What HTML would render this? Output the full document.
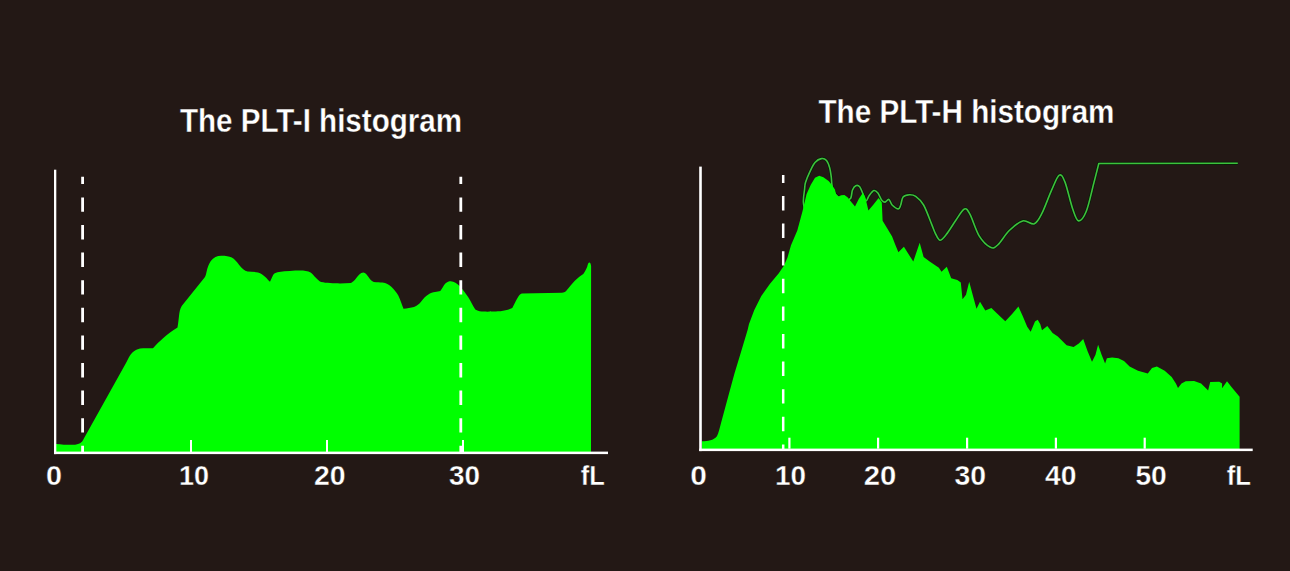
<!DOCTYPE html>
<html><head><meta charset="utf-8">
<style>
html,body{margin:0;padding:0;background:#231815;}
body{width:1290px;height:571px;overflow:hidden;position:relative;}
svg{position:absolute;left:0;top:0;}
text{font-family:"Liberation Sans",sans-serif;font-weight:bold;fill:#fff;stroke:#231815;stroke-width:0.35px;}
</style></head><body>
<svg width="1290" height="571" viewBox="0 0 1290 571">
<rect width="1290" height="571" fill="#231815"/>
<!-- LEFT CHART -->
<path id="lfill" fill="#00ff00" d="M56,452 L56,443.9 C62,444.6 70,444.9 75.2,444.7 C78,444.5 80,443.6 81,442.6 C82.5,441.5 83,440 83.6,438.9 L126,363 C128,359 129.5,356.2 130.9,354.3 C133,351.5 135,350 137,349.4 C139,348.6 141,348.3 143.2,348.2 L153,348.2 C156,345 159,341.5 162.8,338.4 C168,334 172,331 177.5,327.6 C178.5,322 178.8,317 179.3,313.5 C180,309 181,307 181.9,305.7 L204.6,277.6 C205.5,276 206,274.5 206.4,272.4 C207.5,267 209,264 210.8,261 C213.5,257.5 217,255.8 221.3,255.8 C226,255.8 229,256.3 231.8,257.5 C234.5,259 236.5,261.5 238.8,264.5 C242,268.5 244.5,271 247.6,271.5 C251,272 255,271.8 258,272.4 C261,273.2 263,275 265,276.8 C267,278.6 268.5,280.5 270,281.7 C271.5,279 272.5,276 273.8,274.1 C275,272.8 277,272.2 279,272 C286,271.2 294,270.6 300,270.6 C304,270.6 308,271 310.6,272.4 C314,275 317,280 321.1,282 C326,283 334,283.3 340,283.4 L351,282.9 C353,282 354.5,280.5 356.3,278 C358.5,275 360.5,272.4 363.3,272.4 C365.5,272.4 367,275 368.5,277.1 C370,279.5 372,281.5 373.8,281.9 C377,282.2 380,282.2 382.5,282.4 C386,283 389,284.5 391.3,286.8 C394.5,290 396.5,292.5 398.3,295.5 C400.5,300 402,305 403.5,308.7 C407,308.4 411,307.8 414,306.9 C417,305.8 419,304 421,301.7 C423.5,298.5 425.5,296 428,294.7 C430.5,293 433,292.4 435,292 C437,291.6 439,291.6 440.3,291.1 C442,289 443.5,285.5 445.6,283.3 C447,281.8 449,281.2 450.8,281.2 C454,281.5 457,283.5 459.6,285.9 C462.5,289 465.5,293 468.3,297.3 C471,301.5 473,306.5 475.3,309.5 C478,311.2 481,311.6 484.1,311.6 C490,311.8 500,311.3 500.5,311.3 C505,310.5 510,309.5 512.3,308.1 C514.5,304 516,300 517.8,297.5 C519,295.5 520.5,294 521.8,293.6 L562,292.8 C563.5,292.5 565,291.8 565.9,291.2 C569,287.5 572,284 574.6,281 C578,277.5 581,275.5 583.3,273.9 C585,272 586,269.5 587.2,266.8 C587.8,263.8 588.5,262.4 589.4,262.4 C590.3,262.4 590.9,264 591.1,266 L591,452 Z"/>
<!-- axes -->
<rect x="54" y="169.7" width="2.3" height="284.4" fill="#fff"/>
<rect x="54" y="451.6" width="554" height="2.5" fill="#fff"/>
<!-- ticks -->
<rect x="190" y="440" width="2" height="12" fill="#fff"/>
<rect x="326" y="440" width="2" height="12" fill="#fff"/>
<rect x="462" y="440" width="2" height="12" fill="#fff"/>
<!-- dashed -->
<line x1="82.6" y1="176.8" x2="82.6" y2="452" stroke="#fff" stroke-width="2.8" stroke-dasharray="7.2 13.4 14.4 13.2 14.4 13.2 14.4 13.2 14.4 13.2 14.4 13.2 14.4 13.2 14.4 13.2 14.4 13.2 14.4 13.2 14.4 13.2 14.4 13.2"/>
<line x1="460.8" y1="176.8" x2="460.8" y2="452" stroke="#fff" stroke-width="2.8" stroke-dasharray="7.2 13.4 14.4 13.2 14.4 13.2 14.4 13.2 14.4 13.2 14.4 13.2 14.4 13.2 14.4 13.2 14.4 13.2 14.4 13.2 14.4 13.2 14.4 13.2"/>
<!-- labels -->
<text x="180" y="131.7" font-size="33.6" textLength="282" lengthAdjust="spacingAndGlyphs">The PLT-I histogram</text>
<!-- RIGHT CHART -->
<path fill="none" stroke="#0a1c08" stroke-width="3.2" stroke-linejoin="round" d="M806,215 C805.6,212.9 803.6,206.7 803.4,202.5 C803.1,198.3 804.1,193.3 804.5,190.0 C804.9,186.7 804.6,185.6 805.5,182.6 C806.4,179.6 808.1,175.4 809.7,172.1 C811.3,168.8 813.1,164.8 815.0,162.6 C816.9,160.3 819.4,158.9 821.3,158.6 C823.2,158.2 825.1,158.9 826.5,160.5 C827.9,162.1 828.9,165.1 829.7,167.9 C830.5,170.7 830.9,174.7 831.3,177.3 C831.6,179.9 831.5,181.5 831.8,183.6 C832.1,185.7 832.0,187.8 833.0,190.0 C834.0,192.2 835.8,195.3 838.0,197.0 C840.2,198.7 843.9,199.8 846.0,200.0 C848.1,200.2 849.6,200.0 850.7,198.3 C851.8,196.6 851.6,192.1 852.5,190.0 C853.4,187.9 854.6,186.2 855.8,185.7 C857.0,185.2 858.5,185.4 859.7,186.8 C860.9,188.2 861.9,191.5 862.9,193.9 C863.9,196.3 865.0,200.7 866.0,201.0 C867.0,201.3 867.9,197.2 869.2,195.5 C870.5,193.8 872.5,190.9 873.9,190.5 C875.3,190.1 876.6,191.5 877.9,193.1 C879.2,194.7 880.6,198.7 881.8,200.2 C883.0,201.7 883.8,202.2 885.0,202.1 C886.2,202.0 887.7,198.9 888.9,199.4 C890.1,199.9 890.5,203.4 892.1,205.0 C893.7,206.6 897.0,208.9 898.4,208.9 C899.8,208.9 899.9,207.0 900.7,205.0 C901.5,203.0 901.7,198.8 903.1,197.1 C904.5,195.4 907.3,194.8 909.4,194.7 C911.5,194.6 913.3,194.6 915.7,196.3 C918.1,198.0 921.0,200.4 923.6,205.0 C926.2,209.6 929.6,219.2 931.5,223.9 C933.4,228.6 933.8,230.4 935.2,233.1 C936.6,235.8 938.1,239.9 939.9,240.2 C941.7,240.4 943.6,237.9 946.2,234.6 C948.8,231.3 952.7,224.8 955.7,220.5 C958.7,216.2 962.0,210.2 964.4,209.1 C966.8,208.0 967.4,209.7 969.9,214.2 C972.4,218.7 975.9,230.7 979.3,236.2 C982.7,241.7 987.3,245.8 990.4,247.3 C993.5,248.8 994.6,247.8 997.7,245.0 C1000.9,242.2 1005.1,234.5 1009.3,230.5 C1013.5,226.5 1018.5,222.0 1022.7,220.9 C1026.9,219.8 1031.1,225.1 1034.3,223.8 C1037.5,222.5 1039.1,218.8 1042.0,213.2 C1044.9,207.6 1048.7,196.4 1051.6,190.1 C1054.5,183.8 1057.0,176.4 1059.3,175.1 C1061.5,173.8 1062.8,176.7 1065.1,182.4 C1067.3,188.1 1070.5,202.9 1072.8,209.3 C1075.0,215.7 1076.3,220.6 1078.6,220.9 C1080.8,221.2 1083.7,217.7 1086.3,211.3 C1088.9,204.9 1091.9,190.4 1094.0,182.4 C1096.1,174.4 1098.0,166.7 1098.8,163.5 L1237.8,163.3"/>
<path fill="none" stroke="#3cc23c" stroke-width="1.6" stroke-linejoin="round" d="M806,215 C805.6,212.9 803.6,206.7 803.4,202.5 C803.1,198.3 804.1,193.3 804.5,190.0 C804.9,186.7 804.6,185.6 805.5,182.6 C806.4,179.6 808.1,175.4 809.7,172.1 C811.3,168.8 813.1,164.8 815.0,162.6 C816.9,160.3 819.4,158.9 821.3,158.6 C823.2,158.2 825.1,158.9 826.5,160.5 C827.9,162.1 828.9,165.1 829.7,167.9 C830.5,170.7 830.9,174.7 831.3,177.3 C831.6,179.9 831.5,181.5 831.8,183.6 C832.1,185.7 832.0,187.8 833.0,190.0 C834.0,192.2 835.8,195.3 838.0,197.0 C840.2,198.7 843.9,199.8 846.0,200.0 C848.1,200.2 849.6,200.0 850.7,198.3 C851.8,196.6 851.6,192.1 852.5,190.0 C853.4,187.9 854.6,186.2 855.8,185.7 C857.0,185.2 858.5,185.4 859.7,186.8 C860.9,188.2 861.9,191.5 862.9,193.9 C863.9,196.3 865.0,200.7 866.0,201.0 C867.0,201.3 867.9,197.2 869.2,195.5 C870.5,193.8 872.5,190.9 873.9,190.5 C875.3,190.1 876.6,191.5 877.9,193.1 C879.2,194.7 880.6,198.7 881.8,200.2 C883.0,201.7 883.8,202.2 885.0,202.1 C886.2,202.0 887.7,198.9 888.9,199.4 C890.1,199.9 890.5,203.4 892.1,205.0 C893.7,206.6 897.0,208.9 898.4,208.9 C899.8,208.9 899.9,207.0 900.7,205.0 C901.5,203.0 901.7,198.8 903.1,197.1 C904.5,195.4 907.3,194.8 909.4,194.7 C911.5,194.6 913.3,194.6 915.7,196.3 C918.1,198.0 921.0,200.4 923.6,205.0 C926.2,209.6 929.6,219.2 931.5,223.9 C933.4,228.6 933.8,230.4 935.2,233.1 C936.6,235.8 938.1,239.9 939.9,240.2 C941.7,240.4 943.6,237.9 946.2,234.6 C948.8,231.3 952.7,224.8 955.7,220.5 C958.7,216.2 962.0,210.2 964.4,209.1 C966.8,208.0 967.4,209.7 969.9,214.2 C972.4,218.7 975.9,230.7 979.3,236.2 C982.7,241.7 987.3,245.8 990.4,247.3 C993.5,248.8 994.6,247.8 997.7,245.0 C1000.9,242.2 1005.1,234.5 1009.3,230.5 C1013.5,226.5 1018.5,222.0 1022.7,220.9 C1026.9,219.8 1031.1,225.1 1034.3,223.8 C1037.5,222.5 1039.1,218.8 1042.0,213.2 C1044.9,207.6 1048.7,196.4 1051.6,190.1 C1054.5,183.8 1057.0,176.4 1059.3,175.1 C1061.5,173.8 1062.8,176.7 1065.1,182.4 C1067.3,188.1 1070.5,202.9 1072.8,209.3 C1075.0,215.7 1076.3,220.6 1078.6,220.9 C1080.8,221.2 1083.7,217.7 1086.3,211.3 C1088.9,204.9 1091.9,190.4 1094.0,182.4 C1096.1,174.4 1098.0,166.7 1098.8,163.5 L1237.8,163.3"/>
<path fill="#00ff00" d="M702,449.5 L702,441.2 C708,441.1 713.5,440.5 716.9,436.2 C718.5,433.5 719.8,428 721.3,422 L727.8,397.9 L734.4,373.8 L741.0,351.9 L747.6,330.0 L749.0,324.0 L754.3,310.0 L761.3,296.0 L770.0,283.8 L778.8,273.3 L784.0,265.4 L787.5,257.5 L791.0,245.3 L797.3,230.6 L802.5,211.3 L806.6,194.1 L810.8,184.7 L815.0,177.8 L819.2,175.7 L823.4,177.3 L828.6,181.0 L831.8,184.7 L834.9,189.4 L836.0,194.1 L838.1,196.8 L841.2,195.2 L844.4,195.0 L847.5,197.3 L851.7,202.5 L855.0,206.5 L858.9,198.7 L862.9,192.7 L865.2,197.1 L868.4,210.5 L873.1,205.0 L878.6,197.9 L881.8,202.6 L882.6,220.7 L887.3,228.6 L892.1,236.5 L895.2,244.4 L898.4,252.3 L903.9,246.8 L909.4,255.4 L913.3,261.4 L919.7,242.8 L923.6,257.0 L930.0,261.8 L938.9,267.7 L941.5,271.7 L946.8,266.8 L951.2,278.2 L957.3,279.9 L960.8,282.5 L962.5,299.2 L966.0,294.8 L969.2,281.7 L972.2,293.0 L976.5,308.8 L980.0,301.8 L985.3,310.6 L991.4,307.9 L997.6,314.0 L1005.3,321.2 L1012.3,313.7 L1018.4,306.6 L1022.8,316.3 L1027.2,326.8 L1030.7,331.7 L1035.0,321.5 L1037.7,319.8 L1040.3,324.2 L1042.0,330.3 L1047.3,325.9 L1052.6,332.9 L1057.8,336.4 L1066.6,345.2 L1073.6,346.9 L1078.8,343.4 L1083.2,339.1 L1087.6,351.3 L1092.0,361.8 L1095.5,354.8 L1098.1,344.7 L1101.6,354.8 L1105.1,363.6 L1106.9,358.3 L1112.1,357.4 L1118.4,358.2 L1124.0,361.0 L1129.6,366.6 L1138.0,370.8 L1147.8,373.6 L1152.0,368.0 L1156.9,366.6 L1164.7,370.8 L1171.7,377.1 L1175.9,383.4 L1178.0,387.9 L1181.5,383.4 L1185.7,381.3 L1194.1,380.9 L1201.1,383.4 L1206.7,389.0 L1208.1,390.4 L1210.2,382.0 L1219.3,381.8 L1222.1,383.4 L1222.1,388.3 L1227.0,381.3 L1231.9,387.6 L1239.6,396.8 L1239.6,449.5 Z"/>
<rect x="788.3" y="437.7" width="2.2" height="11" fill="#fff"/>
<rect x="877" y="437.7" width="2.2" height="11" fill="#fff"/>
<rect x="966" y="437.7" width="2.2" height="11" fill="#fff"/>
<rect x="1054.8" y="437.7" width="2.2" height="11" fill="#fff"/>
<rect x="1143.6" y="437.7" width="2.2" height="11" fill="#fff"/>
<line x1="783.2" y1="175" x2="783.2" y2="449" stroke="#fff" stroke-width="2.5" stroke-dasharray="8 13 14.4 13.2 14.4 13.2 14.4 13.2 14.4 13.2 14.4 13.2 14.4 13.2 14.4 13.2 14.4 13.2 14.4 13.2 14.4 13.2 14.4 13.2"/>
<rect x="699.2" y="166.6" width="2.6" height="284.5" fill="#fff"/>
<rect x="699.2" y="448.6" width="553.5" height="2.5" fill="#fff"/>
<text x="818.5" y="123.2" font-size="33.6" textLength="296" lengthAdjust="spacingAndGlyphs">The PLT-H histogram</text>
<text x="46.00" y="485.00" font-size="27.50" textLength="16.00" lengthAdjust="spacingAndGlyphs">0</text>
<text x="179.00" y="485.00" font-size="27.50" textLength="30.00" lengthAdjust="spacingAndGlyphs">10</text>
<text x="314.00" y="485.00" font-size="27.50" textLength="31.60" lengthAdjust="spacingAndGlyphs">20</text>
<text x="449.00" y="485.00" font-size="27.50" textLength="31.00" lengthAdjust="spacingAndGlyphs">30</text>
<text x="580.80" y="485.00" font-size="27.50" textLength="24.00" lengthAdjust="spacingAndGlyphs">fL</text>
<text x="690.20" y="485.00" font-size="27.50" textLength="16.60" lengthAdjust="spacingAndGlyphs">0</text>
<text x="775.00" y="485.00" font-size="27.50" textLength="31.00" lengthAdjust="spacingAndGlyphs">10</text>
<text x="863.80" y="485.00" font-size="27.50" textLength="32.60" lengthAdjust="spacingAndGlyphs">20</text>
<text x="954.40" y="485.00" font-size="27.50" textLength="31.60" lengthAdjust="spacingAndGlyphs">30</text>
<text x="1045.00" y="485.00" font-size="27.50" textLength="31.40" lengthAdjust="spacingAndGlyphs">40</text>
<text x="1135.40" y="485.00" font-size="27.50" textLength="31.40" lengthAdjust="spacingAndGlyphs">50</text>
<text x="1226.80" y="485.00" font-size="27.50" textLength="24.20" lengthAdjust="spacingAndGlyphs">fL</text>
</svg>
</body></html>
